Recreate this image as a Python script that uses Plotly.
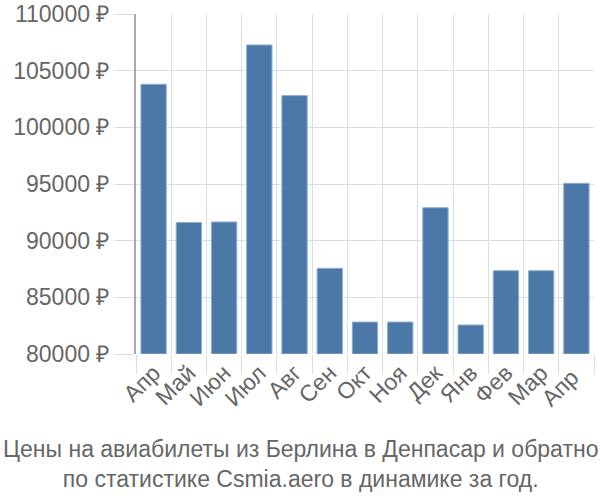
import plotly.graph_objects as go

months = ["Апр", "Май", "Июн", "Июл", "Авг", "Сен", "Окт", "Ноя", "Дек", "Янв", "Фев", "Мар", "Апр "]
prices = [103800, 91600, 91650, 107270, 102800, 87560, 82820, 82820, 92910, 82560, 87350, 87350, 95060]
y_ticks = [80000, 85000, 90000, 95000, 100000, 105000, 110000]
y_labels = [f"{v} ₽" for v in y_ticks]
title_lines = ["Цены на авиабилеты из Берлина в Денпасар и обратно",
               "по статистике Csmia.aero в динамике за год."]

fig = go.Figure(go.Bar(
    x=months, y=[p - 80000 for p in prices], base=80000,
    marker=dict(color="#4c78a8", line=dict(color="#8fb0d4", width=1)),
    width=0.72,
))

font = dict(family="Liberation Sans, Arial, sans-serif", color="#666666")
fig.update_layout(
    width=600, height=500,
    margin=dict(l=136, r=6, t=14, b=146, autoexpand=False),
    plot_bgcolor="white", paper_bgcolor="white",
    showlegend=False,
    font=font,
    xaxis=dict(
        type="category", tickson="boundaries", tickangle=-45,
        showgrid=True, gridcolor="#dddddd", gridwidth=1,
        ticks="outside", ticklen=19, tickcolor="#dddddd", tickwidth=1,
        tickfont=dict(size=23, **font),
        showline=False, range=[-0.5, 12.5], automargin=False,
    ),
    yaxis=dict(
        range=[80000, 110000], tickvals=y_ticks, ticktext=y_labels,
        showgrid=True, gridcolor="#dddddd", gridwidth=1,
        ticks="outside", ticklen=20, tickcolor="#dddddd",
        tickfont=dict(size=23, **font),
        showline=True, linecolor="#aaaaaa", linewidth=2,
        zeroline=False, automargin=False,
    ),
    annotations=[dict(
        text="<br>".join(title_lines), xref="paper", yref="paper",
        x=0.5, y=-(464 - 354) / 340, xanchor="center", yanchor="middle",
        showarrow=False, font=dict(size=23, **font),
        xshift=-(136 - 6) / 2,
    )],
)
fig.write_html("out.html")
